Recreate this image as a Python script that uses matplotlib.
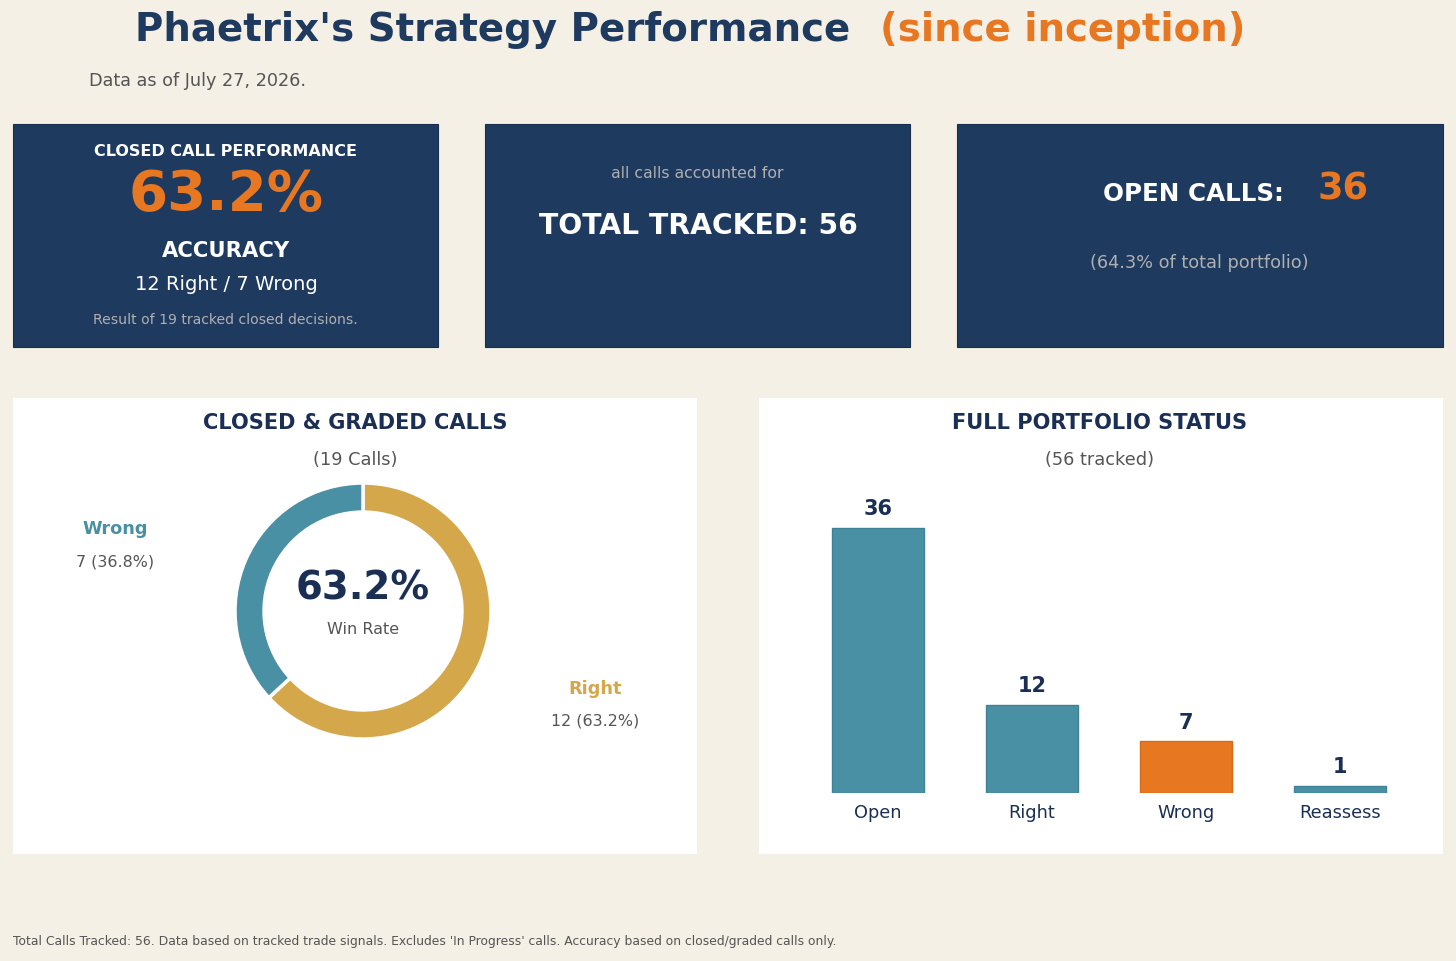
import matplotlib.pyplot as plt
from matplotlib.patches import Rectangle

plt.rcParams["font.family"] = ["DejaVu Sans"]

# ---- data ----
closed_labels = ["Right", "Wrong"]
closed_counts = [12, 7]
status_labels = ["Open", "Right", "Wrong", "Reassess"]
status_counts = [36, 12, 7, 1]
total_tracked = 56
as_of = "July 27, 2026"

# ---- colours ----
BG = "#F5F0E6"
NAVY = "#1E3A5F"
DARK = "#1B2F55"
ORANGE = "#E87722"
TEAL = "#4A90A5"
GOLD = "#D4A84A"
GREY = "#555555"
LIGHT = "#B0B0B0"

W, H = 1456, 961


def fx(x):
    return x / W


def fy(y):
    return 1 - y / H


def txt(x, y, s, **kw):
    kw.setdefault("ha", "center")
    kw.setdefault("va", "center")
    fig.text(fx(x), fy(y), s, **kw)


def box(x0, y0, x1, y1, color, edge="none"):
    fig.add_artist(Rectangle((fx(x0), fy(y1)), fx(x1 - x0), (y1 - y0) / H,
                             transform=fig.transFigure, facecolor=color,
                             edgecolor=edge, linewidth=0.8, zorder=0))


fig = plt.figure(figsize=(W / 100, H / 100), dpi=100, facecolor=BG)

n_right, n_wrong = closed_counts
n_closed = sum(closed_counts)
acc = n_right / n_closed * 100
n_open = status_counts[0]

# ---- header ----
txt(135, 30, "Phaetrix's Strategy Performance", ha="left", fontsize=27.9,
    fontweight="bold", color=NAVY)
txt(880, 30, "(since inception)", ha="left", fontsize=27.9,
    fontweight="bold", color=ORANGE)
txt(89, 81, f"Data as of {as_of}.", ha="left", fontsize=12.7, color=GREY)

# ---- KPI cards ----
box(13, 124, 438, 347, NAVY, "#172E4E")
box(485, 124, 910, 347, NAVY, "#172E4E")
box(957, 124, 1443, 347, NAVY, "#172E4E")

txt(226, 152, "CLOSED CALL PERFORMANCE", fontsize=11.5, fontweight="bold", color="white")
txt(226, 195, f"{acc:.1f}%", fontsize=40.5, fontweight="bold", color=ORANGE)
txt(226, 251, "ACCURACY", fontsize=15.2, fontweight="bold", color="white")
txt(226, 285, f"{n_right} Right / {n_wrong} Wrong", fontsize=14, color="white")
txt(225, 320, f"Result of {n_closed} tracked closed decisions.", fontsize=10.1, color=LIGHT)

txt(697, 174, "all calls accounted for", fontsize=11.3, color=LIGHT)
txt(698, 226, f"TOTAL TRACKED: {total_tracked}", fontsize=20.3, fontweight="bold", color="white")

txt(1193, 194, "OPEN CALLS:", fontsize=17.7, fontweight="bold", color="white")
txt(1343, 189, f"{n_open}", fontsize=26.5, fontweight="bold", color=ORANGE)
txt(1199, 263, f"({n_open / total_tracked * 100:.1f}% of total portfolio)",
    fontsize=12.8, color=LIGHT)

# ---- bottom panels ----
box(13, 398, 697, 854, "white")
box(759, 398, 1443, 854, "white")

txt(355, 423, "CLOSED & GRADED CALLS", fontsize=15.1, fontweight="bold", color=DARK)
txt(355, 460, f"({n_closed} Calls)", fontsize=12.8, color=GREY)

# donut
cx, cy, r = 363, 611, 128
pad = 140
ax1 = fig.add_axes([fx(cx - pad), fy(cy + pad), 2 * pad / W, 2 * pad / H])
ax1.pie(closed_counts, colors=[GOLD, TEAL], startangle=90, counterclock=False,
        radius=1, wedgeprops=dict(width=0.227, edgecolor="white", linewidth=2.5))
lim = pad / r
ax1.set_xlim(-lim, lim)
ax1.set_ylim(-lim, lim)
ax1.set_aspect("equal")
ax1.axis("off")

txt(363, 588, f"{acc:.1f}%", fontsize=27.8, fontweight="bold", color=DARK)
txt(363, 629, "Win Rate", fontsize=11.5, color=GREY)

txt(115, 529, closed_labels[1], fontsize=12.8, fontweight="bold", color=TEAL)
txt(115, 562, f"{n_wrong} ({n_wrong / n_closed * 100:.1f}%)", fontsize=11.4, color=GREY)
txt(595, 689, closed_labels[0], fontsize=12.8, fontweight="bold", color=GOLD)
txt(595, 721, f"{n_right} ({n_right / n_closed * 100:.1f}%)", fontsize=11.4, color=GREY)

# bars
txt(1100, 423, "FULL PORTFOLIO STATUS", fontsize=15.1, fontweight="bold", color=DARK)
txt(1100, 460, f"({total_tracked} tracked)", fontsize=12.8, color=GREY)

step = 154
unit = 7.36
ymax = 42.5
base = 793
left = 878 - 0.6 * step
ax2 = fig.add_axes([fx(left), fy(base), 4.2 * step / W, ymax * unit / H])
ax2.set_facecolor("none")
bar_colors = [TEAL, TEAL, ORANGE, TEAL]
edge_colors = ["#3F8196", "#3F8196", "#D96A18", "#3F8196"]
xs = range(len(status_labels))
ax2.bar(xs, status_counts, width=0.6, color=bar_colors,
        edgecolor=edge_colors, linewidth=1)
for x, v in zip(xs, status_counts):
    ax2.text(x, v + 1.2, str(v), ha="center", va="bottom", fontsize=15,
             fontweight="bold", color=DARK)
ax2.set_xlim(-0.6, 3.6)
ax2.set_ylim(0, ymax)
ax2.set_xticks(list(xs))
ax2.set_xticklabels(status_labels, fontsize=12.8, color=DARK)
ax2.tick_params(axis="x", length=0, pad=8)
ax2.set_yticks([])
for s in ax2.spines.values():
    s.set_visible(False)

# ---- footer ----
txt(13, 941, "Total Calls Tracked: 56. Data based on tracked trade signals. "
    "Excludes 'In Progress' calls. Accuracy based on closed/graded calls only.",
    ha="left", fontsize=8.9, color=GREY)

fig.savefig("out.png", dpi=100, facecolor=BG)
